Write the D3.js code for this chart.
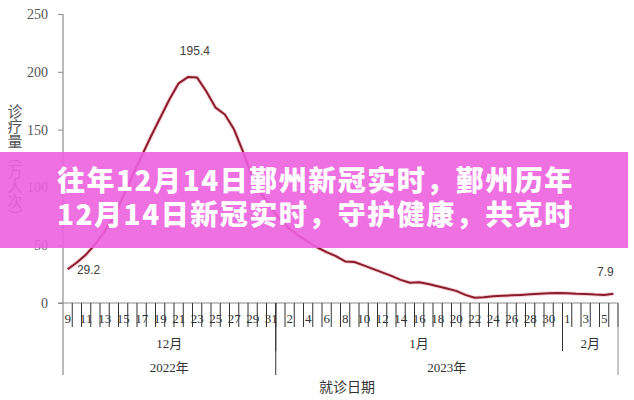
<!DOCTYPE html>
<html><head><meta charset="utf-8">
<script src="https://cdn.jsdelivr.net/npm/d3@7"></script>
<style>
html,body{margin:0;padding:0;background:#fff;}
svg{display:block;}
</style></head>
<body>
<svg id="chart" width="634" height="400"></svg>
<script>
// ---- data ----
const dayLabels = ["9","10","11","12","13","14","15","16","17","18","19","20","21","22","23","24","25","26","27","28","29","30","31",
  "1","2","3","4","5","6","7","8","9","10","11","12","13","14","15","16","17","18","19","20","21","22","23","24","25","26","27","28","29","30","31",
  "1","2","3","4","5","6"];
const visits = [29.2,35,42,51,62,75,92,110,127,144,160,176,190,195.4,195,183,169,163,150,130,
  108,94,82,72,64,58,53,48,44,40.5,36,35.5,32.5,29.5,26.5,23.5,20,17.5,18,16.5,
  14.5,12.5,10.5,7,4.5,5,5.8,6.2,6.6,7,7.5,8,8.4,8.6,8.4,8,7.8,7.3,7,7.9];
const monthNames = ["12月","1月","2月"];
const monthDays = [23,31,6];
const yearNames = ["2022年","2023年"];
const yearDays = [23,37];
const yTicks = [0,50,100,150,200,250];
const labeledPoints = [0,13,59]; // indices with value labels
const titleLines = ["往年12月14日鄞州新冠实时，鄞州历年","12月14日新冠实时，守护健康，共克时"];
const yTitle = "诊疗量（万人次）";
const xTitle = "就诊日期";

// ---- layout ----
const svg = d3.select("#chart");
const mLeft = 63, mRight = 618, mTop = 14, mBottom = 303;
const idx = d3.range(visits.length);
const x = d3.scaleBand().domain(idx).range([mLeft, mRight]).paddingInner(0).paddingOuter(0);
const y = d3.scaleLinear().domain([0, 250]).range([mBottom, mTop]);
const xc = i => x(i) + x.bandwidth() / 2;
const gray = "#8c8c8c";

// y axis
const yAxis = svg.append("g").attr("transform", `translate(${mLeft},0)`)
  .call(d3.axisLeft(y).tickValues(yTicks).tickSize(5).tickPadding(10));
yAxis.select(".domain").remove();
yAxis.selectAll(".tick line").attr("stroke", gray);
yAxis.selectAll(".tick text").attr("font-family", "Liberation Serif, serif").attr("font-size", 14).attr("fill", "#555");

svg.append("line").attr("x1", mLeft).attr("x2", mLeft).attr("y1", mTop).attr("y2", 375)
  .attr("stroke", gray).attr("stroke-width", 1.2);
// x axis line
svg.append("line").attr("x1", mLeft - 5).attr("x2", mRight).attr("y1", mBottom).attr("y2", mBottom)
  .attr("stroke", gray).attr("stroke-width", 1.2);

// category separators
const seps = d3.range(1, visits.length + 1);
svg.append("g").selectAll("line").data(seps).join("line")
  .attr("x1", d => d < visits.length ? x(d) : mRight)
  .attr("x2", d => d < visits.length ? x(d) : mRight)
  .attr("y1", mBottom).attr("y2", mBottom + 24)
  .attr("stroke", "#333").attr("stroke-width", 1);

// day labels (every other day)
svg.append("g").selectAll("text").data(idx.filter(i => i % 2 === 0)).join("text")
  .attr("x", d => xc(d)).attr("y", mBottom + 20)
  .attr("text-anchor", "middle")
  .attr("font-family", "Liberation Serif, serif").attr("font-size", 13).attr("fill", "#333")
  .text(d => dayLabels[d]);

// month groups
let acc = 0;
const monthStarts = monthDays.map(n => { const s = acc; acc += n; return s; });
monthNames.forEach((m, k) => {
  const s = monthStarts[k], e = s + monthDays[k];
  const x0 = x(s), x1 = e < visits.length ? x(e) : mRight;
  svg.append("text").attr("x", (x0 + x1) / 2).attr("y", mBottom + 45)
    .attr("text-anchor", "middle").attr("font-family", "Liberation Serif, Noto Sans CJK SC, serif")
    .attr("font-size", 13).attr("fill", "#333").text(m);
  if (k > 0) {
    svg.append("line").attr("x1", x0).attr("x2", x0).attr("y1", mBottom).attr("y2", mBottom + 48)
      .attr("stroke", "#333").attr("stroke-width", 1);
  }
});
// year groups
acc = 0;
yearNames.forEach((yn, k) => {
  const s = acc; acc += yearDays[k];
  const x0 = x(s), x1 = acc < visits.length ? x(acc) : mRight;
  svg.append("text").attr("x", (x0 + x1) / 2).attr("y", mBottom + 69)
    .attr("text-anchor", "middle").attr("font-family", "Liberation Serif, Noto Sans CJK SC, serif")
    .attr("font-size", 13).attr("fill", "#333").text(yn);
  svg.append("line").attr("x1", x1).attr("x2", x1).attr("y1", mBottom).attr("y2", 375)
    .attr("stroke", k === 0 ? "#333" : gray).attr("stroke-width", 1);
});

// axis titles
svg.append("text").attr("x", 347).attr("y", 392).attr("text-anchor", "middle")
  .attr("font-family", "Noto Sans CJK SC, sans-serif").attr("font-size", 14).attr("fill", "#333").text(xTitle);
svg.append("text").attr("x", 15).attr("y", 104)
  .style("writing-mode", "vertical-rl")
  .attr("font-family", "Noto Sans CJK SC, sans-serif").attr("font-size", 15).attr("fill", "#555")
  .text(yTitle);

// line
const line = d3.line().x(i => xc(i)).y(i => y(visits[i])).curve(d3.curveLinear);
svg.append("path").datum(idx).attr("d", line).attr("fill", "none")
  .attr("stroke", "#f2b4c0").attr("stroke-width", 4).attr("stroke-opacity", 0.6).attr("stroke-linejoin", "round");
svg.append("path").datum(idx).attr("d", line).attr("fill", "none")
  .attr("stroke", "#8a1c2c").attr("stroke-width", 2).attr("stroke-linejoin", "round");

// value labels
const lblOff = {0: [21, 5], 13: [7, -22], 59: [-8, -18]};
svg.append("g").selectAll("text").data(labeledPoints).join("text")
  .attr("x", d => xc(d) + lblOff[d][0]).attr("y", d => y(visits[d]) + lblOff[d][1])
  .attr("text-anchor", "middle").attr("font-family", "Liberation Sans, sans-serif")
  .attr("font-size", 12).attr("fill", "#404040")
  .text(d => d3.format(".1f")(visits[d]));

// overlay banner
svg.append("rect").attr("x", 0).attr("y", 152).attr("width", 628).attr("height", 96)
  .attr("fill", "rgb(236,96,222)").attr("fill-opacity", 0.9);
svg.append("g").selectAll("text").data(titleLines).join("text")
  .attr("x", 57).attr("y", (d, i) => 191 + i * 34)
  .attr("font-family", "Noto Sans CJK SC, sans-serif").attr("font-weight", 900)
  .attr("font-size", 28).attr("letter-spacing", 1.5)
  .attr("fill", "#fff").text(d => d);
</script>
</body></html>
